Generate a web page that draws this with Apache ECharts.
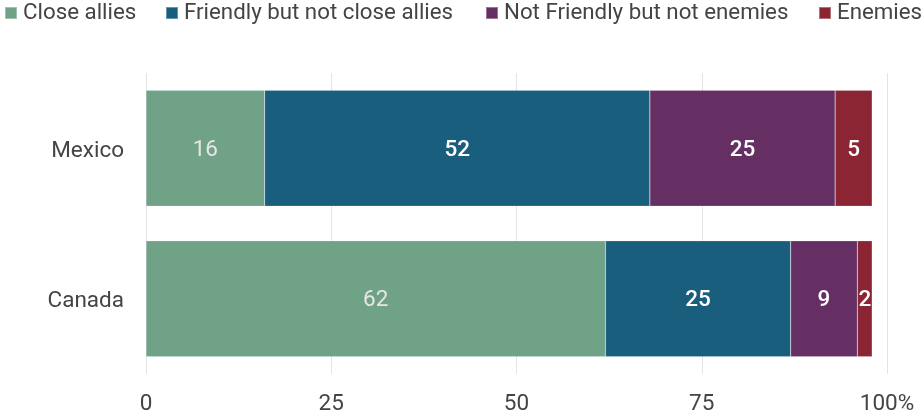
<!DOCTYPE html>
<html>
<head>
<meta charset="utf-8">
<script src="https://cdn.jsdelivr.net/npm/echarts@6/dist/echarts.min.js"></script>
<style>
  html, body { margin: 0; padding: 0; background: #fff; }
  #chart { width: 923px; height: 416px; }
</style>
</head>
<body>
<div id="chart"></div>
<script>
// Countries shown on the vertical axis (bottom to top)
const countries = ['Canada', 'Mexico'];

// Share of respondents in each relationship category (%)
const seriesNames = ['Close allies', 'Friendly but not close allies', 'Not Friendly but not enemies', 'Enemies'];
const closeAllies = [62, 16];
const friendly = [25, 52];
const notFriendly = [9, 25];
const enemies = [2, 5];

const xTicks = [0, 25, 50, 75, 100];

const colors = ['#6fa287', '#1a5e7e', '#652f63', '#8b2534'];
const labelColors = ['#e6e6e6', '#ffffff', '#ffffff', '#ffffff'];
const labelWeights = ['normal', 500, 500, 500];

const values = [closeAllies, friendly, notFriendly, enemies];

// Legend entries sit on one row; each entry gets its own horizontal slot
const legendLefts = [4, 165, 485, 818];

const chart = echarts.init(document.getElementById('chart'));

chart.setOption({
  animation: false,
  textStyle: { fontFamily: 'Roboto' },
  color: colors,
  legend: seriesNames.map((name, i) => ({
    left: legendLefts[i],
    top: 2,
    padding: 0,
    itemWidth: 12,
    itemHeight: 12,
    icon: 'rect',
    textStyle: { fontSize: 22.3, color: '#444', fontFamily: 'Roboto', padding: [2, 0, 0, 1] },
    data: [name]
  })),
  grid: { left: 146, right: 36, top: 73, bottom: 41 },
  xAxis: {
    type: 'value',
    min: xTicks[0],
    max: xTicks[xTicks.length - 1],
    interval: 25,
    axisLine: { show: false },
    axisTick: { show: false },
    splitLine: { lineStyle: { color: '#e4e4e4', width: 1 } },
    axisLabel: {
      fontSize: 22.5,
      color: '#444',
      margin: 19,
      formatter: v => v === 100 ? '100%' : String(v)
    }
  },
  yAxis: {
    type: 'category',
    data: countries,
    axisLine: { show: false },
    axisTick: { show: false },
    axisLabel: {
      fontSize: 22.5,
      color: '#444',
      margin: 22,
      formatter: v => '{c|' + v + '}',
      rich: { c: { fontSize: 22.5, color: '#444', fontFamily: 'Roboto', padding: [6, 0, 0, 0] } }
    }
  },
  series: seriesNames.map((name, i) => ({
    name: name,
    type: 'bar',
    stack: 'total',
    barWidth: '77%',
    data: values[i],
    itemStyle: { color: colors[i], borderColor: 'rgba(255,255,255,0.35)', borderWidth: 0.5 },
    label: {
      show: true,
      position: 'inside',
      offset: [0, 2],
      fontSize: 22.5,
      color: labelColors[i],
      fontWeight: labelWeights[i],
      fontFamily: 'Roboto'
    }
  }))
});
</script>
</body>
</html>
